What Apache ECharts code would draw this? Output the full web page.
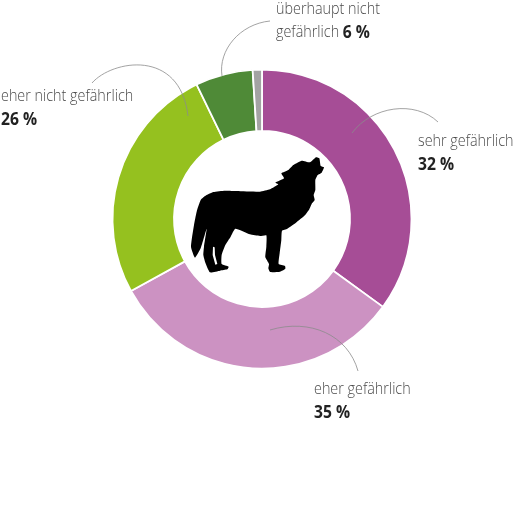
<!DOCTYPE html>
<html>
<head>
<meta charset="utf-8">
<style>html,body{margin:0;padding:0;background:#fff}#c{width:525px;height:510px}</style>
<script src="https://cdn.jsdelivr.net/npm/echarts@6/dist/echarts.min.js"></script>
</head>
<body>
<div id="c"></div>
<script>
const categories = ['sehr gefährlich', 'eher gefährlich', 'eher nicht gefährlich', 'überhaupt nicht gefährlich', 'keine Angabe'];
// slice sizes as drawn in the picture
const sliceValues = [35, 32, 25.8, 6.2, 1];
// percentages as printed in the labels
const printedPercent = ['32 %', '35 %', '26 %', '6 %'];
const colors = ['#A64D96', '#CC92C2', '#95C11F', '#4F8A37', '#A3A3A3'];

const wolfOutline = [
[438,52],[448,55],[452,78],[462,82],[455,98],[443,105],[436,120],[436,150],[431,165],[434,180],[426,190],[418,208],[408,222],[398,232],[378,248],[352,266],[336,272],[334,300],[329,340],[326,372],[345,378],[346,386],[330,395],[300,396],[295,385],[297,372],[286,352],[289,320],[289,286],[270,288],[240,283],[196,266],[182,290],[166,315],[155,345],[155,372],[176,380],[172,388],[150,392],[120,397],[106,368],[100,345],[102,320],[110,266],[92,325],[75,353],[63,320],[72,255],[80,215],[92,180],[105,168],[130,156],[165,152],[200,153],[270,155],[300,148],[325,133],[316,128],[342,115],[334,100],[355,90],[370,75],[395,62],[420,67]
];
const wolfSlit = [[129,320],[134,322],[135,345],[142,372],[136,374],[128,345]];

const leaderCurves = [
  {x1:92,y1:83,cpx1:112,cpy1:60,cpx2:180,cpy2:48,x2:188,y2:116},
  {x1:270,y1:21,cpx1:240,cpy1:24,cpx2:218,cpy2:50,x2:222,y2:76},
  {x1:352,y1:133,cpx1:372,cpy1:106,cpx2:415,cpy2:100,x2:438,y2:122},
  {x1:270,y1:330,cpx1:310,cpy1:318,cpx2:348,cpy2:335,x2:358,y2:371}
];

const FONT = '"Open Sans"';
const FS = 16.5;
const textStyleBase = {
  fontFamily: FONT, fontSize: FS, lineHeight: 23,
  rich: {
    n: {fontFamily:FONT, fontWeight:300, fontSize:FS, lineHeight:23, fill:'#4a4a4a', color:'#4a4a4a'},
    b: {fontFamily:FONT, fontWeight:700, fontSize:18, lineHeight:23, fill:'#222', color:'#222'}
  }
};
function textEl(x, y, text) {
  return {type:'text', x, y, scaleX:0.87, z:10, style:Object.assign({text, align:'left', verticalAlign:'top'}, textStyleBase)};
}

const graphics = [];
graphics.push(...leaderCurves.map(s => ({
  type:'bezierCurve', z:9, shape:s, style:{stroke:'#8c8c8c', lineWidth:0.8, fill:null}
})));
const toPx = p => [170 + p[0]/3, 140 + p[1]/3];
graphics.push({type:'polygon', z:8, shape:{points:wolfOutline.map(toPx), smooth:0.15}, style:{fill:'#000'}});
graphics.push({type:'polygon', z:9, shape:{points:wolfSlit.map(toPx)}, style:{fill:'#fff'}});
graphics.push(textEl(1, 85, `{n|${categories[2]}}\n{b|${printedPercent[2]}}`));
graphics.push(textEl(276, -2, `{n|überhaupt nicht}\n{n|gefährlich} {b|${printedPercent[3]}}`));
graphics.push(textEl(418, 130, `{n|${categories[0]}}\n{b|${printedPercent[0]}}`));
graphics.push(textEl(314, 378, `{n|${categories[1]}}\n{b|${printedPercent[1]}}`));

const chart = echarts.init(document.getElementById('c'), null, {renderer:'canvas'});
chart.setOption({
  animation:false,
  series:[{
    type:'pie',
    center:[262,219],
    radius:[88,149.5],
    startAngle:90,
    clockwise:true,
    label:{show:false},
    labelLine:{show:false},
    emphasis:{disabled:true},
    itemStyle:{borderColor:'#fff', borderWidth:1.8},
    data:categories.map((name,i)=>({name, value:sliceValues[i], itemStyle:{color:colors[i]}}))
  }],
  graphic:graphics
});
</script>
</body>
</html>
